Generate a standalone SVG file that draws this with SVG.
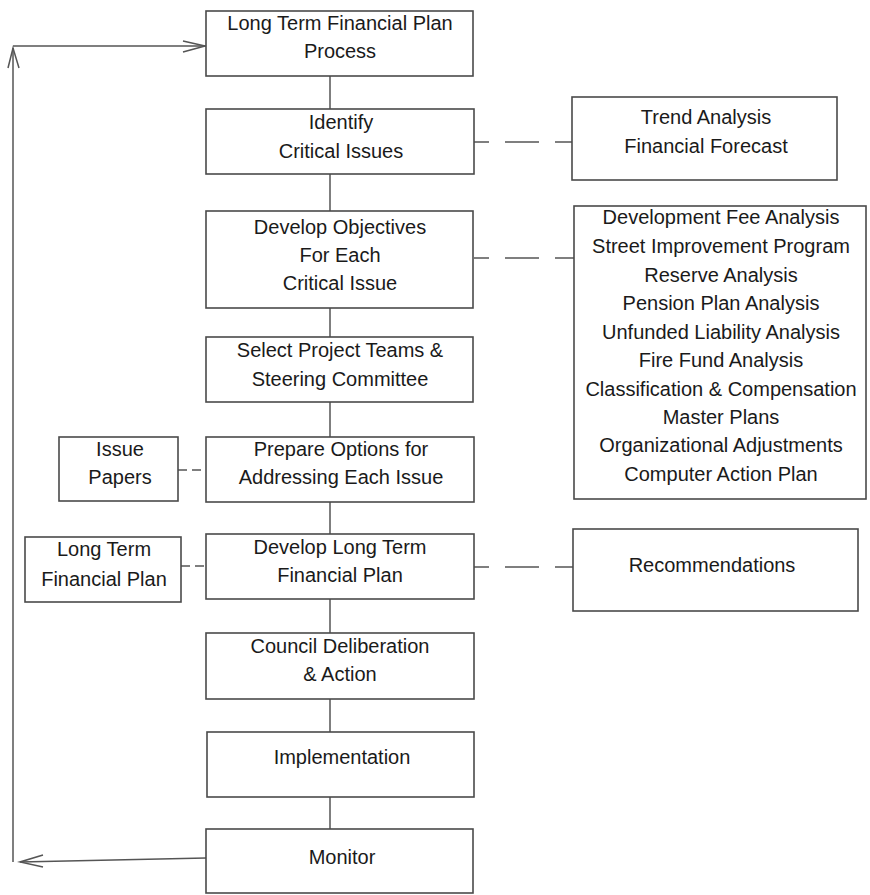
<svg xmlns="http://www.w3.org/2000/svg" width="870" height="895" viewBox="0 0 870 895">
<style>
.box{fill:#fff;stroke:#4a4a4a;stroke-width:1.6}
.t{font-family:"Liberation Sans",Arial,sans-serif;font-size:20px;fill:#1a1a1a;text-anchor:middle}
.c{stroke:#555;stroke-width:1.5;fill:none}
.ld{stroke-dasharray:15 16 34 16 20}
.sd{stroke-dasharray:9 5}
</style>
<rect width="870" height="895" fill="#fff"/>
<g id="connectors">
<line class="c" x1="330" y1="76" x2="330" y2="109"/>
<line class="c" x1="330" y1="174" x2="330" y2="211"/>
<line class="c" x1="330" y1="308" x2="330" y2="337"/>
<line class="c" x1="330" y1="402" x2="330" y2="437"/>
<line class="c" x1="330" y1="502" x2="330" y2="534"/>
<line class="c" x1="330" y1="599" x2="330" y2="633"/>
<line class="c" x1="330" y1="699" x2="330" y2="732"/>
<line class="c" x1="330" y1="797" x2="330" y2="829"/>
<line class="c ld" x1="474" y1="142" x2="572" y2="142"/>
<line class="c ld" x1="474" y1="258" x2="574" y2="258"/>
<line class="c ld" x1="474" y1="567" x2="573" y2="567"/>
<line class="c sd" x1="178" y1="470" x2="206" y2="470"/>
<line class="c sd" x1="181" y1="566" x2="206" y2="566"/>
<polyline class="c" points="206,858 20,862"/>
<polyline class="c" points="43,855 20,862 43,867"/>
<line class="c" x1="13" y1="862" x2="13" y2="48"/>
<polyline class="c" points="8,68 13,48 19,68"/>
<line class="c" x1="13" y1="46" x2="206" y2="46"/>
<polyline class="c" points="183,41 205,46 183,52"/>
</g>
<g id="n1"><rect class="box" x="206" y="11" width="267" height="65"/><text class="t" x="340" y="30">Long Term Financial Plan</text><text class="t" x="340" y="58">Process</text></g>
<g id="n2"><rect class="box" x="206" y="109" width="268" height="65"/><text class="t" x="341" y="129">Identify</text><text class="t" x="341" y="158">Critical Issues</text></g>
<g id="n3"><rect class="box" x="206" y="211" width="267" height="97"/><text class="t" x="340" y="234">Develop Objectives</text><text class="t" x="340" y="262">For Each</text><text class="t" x="340" y="290">Critical Issue</text></g>
<g id="n4"><rect class="box" x="206" y="337" width="267" height="65"/><text class="t" x="340" y="357">Select Project Teams &amp;</text><text class="t" x="340" y="386">Steering Committee</text></g>
<g id="n5"><rect class="box" x="206" y="437" width="268" height="65"/><text class="t" x="341" y="456">Prepare Options for</text><text class="t" x="341" y="484">Addressing Each Issue</text></g>
<g id="n6"><rect class="box" x="206" y="534" width="268" height="65"/><text class="t" x="340" y="554">Develop Long Term</text><text class="t" x="340" y="582">Financial Plan</text></g>
<g id="n7"><rect class="box" x="206" y="633" width="268" height="66"/><text class="t" x="340" y="653">Council Deliberation</text><text class="t" x="340" y="681">&amp; Action</text></g>
<g id="n8"><rect class="box" x="207" y="732" width="267" height="65"/><text class="t" x="342" y="764">Implementation</text></g>
<g id="n9"><rect class="box" x="206" y="829" width="267" height="64"/><text class="t" x="342" y="864">Monitor</text></g>
<g id="trend"><rect class="box" x="572" y="97" width="265" height="83"/><text class="t" x="706" y="124">Trend Analysis</text><text class="t" x="706" y="153">Financial Forecast</text></g>
<g id="list"><rect class="box" x="574" y="206" width="292" height="293"/>
<text class="t" x="721" y="224">Development Fee Analysis</text>
<text class="t" x="721" y="253">Street Improvement Program</text>
<text class="t" x="721" y="282">Reserve Analysis</text>
<text class="t" x="721" y="310">Pension Plan Analysis</text>
<text class="t" x="721" y="339">Unfunded Liability Analysis</text>
<text class="t" x="721" y="367">Fire Fund Analysis</text>
<text class="t" x="721" y="396">Classification &amp; Compensation</text>
<text class="t" x="721" y="424">Master Plans</text>
<text class="t" x="721" y="452">Organizational Adjustments</text>
<text class="t" x="721" y="481">Computer Action Plan</text>
</g>
<g id="issue"><rect class="box" x="59" y="437" width="119" height="64"/><text class="t" x="120" y="456">Issue</text><text class="t" x="120" y="484">Papers</text></g>
<g id="ltfp"><rect class="box" x="25" y="537" width="156" height="65"/><text class="t" x="104" y="556">Long Term</text><text class="t" x="104" y="586">Financial Plan</text></g>
<g id="rec"><rect class="box" x="573" y="529" width="285" height="82"/><text class="t" x="712" y="572">Recommendations</text></g>
</svg>
